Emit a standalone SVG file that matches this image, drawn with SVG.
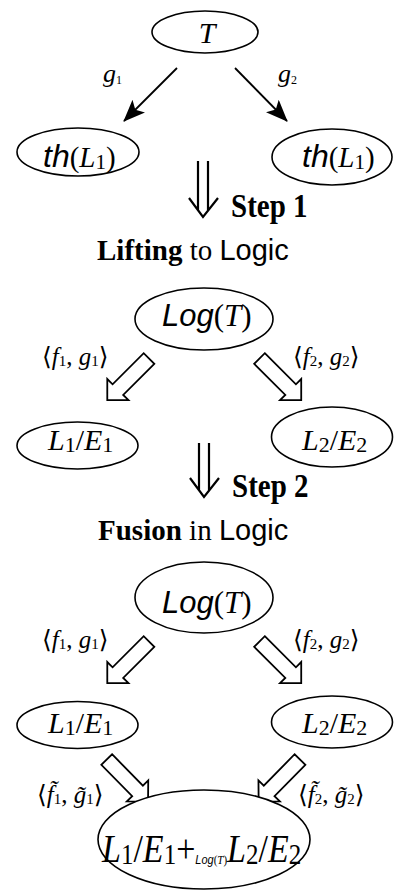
<svg xmlns="http://www.w3.org/2000/svg" xmlns:xlink="http://www.w3.org/1999/xlink" width="395" height="892" viewBox="0 0 395 892">
<style>
.node{fill:#fff;stroke:#000;stroke-width:1.6}
.ser{font-family:"Liberation Serif","DejaVu Serif",serif;fill:#000}
.san{font-family:"Liberation Sans","DejaVu Sans",sans-serif;fill:#000}
.it{font-style:italic}
.bd{font-weight:bold}
.line{stroke:#000;stroke-width:1.8;fill:none}
.hollow{fill:#fff;stroke:#000;stroke-width:1.8;stroke-linejoin:miter}
.dbl{stroke:#000;stroke-width:2.2;fill:none}
</style>
<defs>
<marker id="ah" viewBox="0 0 22 18" refX="21" refY="9" markerWidth="22" markerHeight="18" markerUnits="userSpaceOnUse" orient="auto">
<path d="M0,0 L22,9 L0,18 L5,9 Z" fill="#000"/>
</marker>
<path id="harrow" class="hollow" d="M0,-7.5 L44,-7.5 L44,-15 L59,0 L44,15 L44,7.5 L0,7.5 Z"/>
</defs>

<g id="connectors">
<line class="line" x1="177" y1="68" x2="124" y2="121" marker-end="url(#ah)"/>
<line class="line" x1="235" y1="68" x2="287" y2="121" marker-end="url(#ah)"/>
<use xlink:href="#harrow" transform="translate(149,358.5) rotate(135)"/>
<use xlink:href="#harrow" transform="translate(259.5,358.5) rotate(45)"/>
<use xlink:href="#harrow" transform="translate(149,641.5) rotate(135)"/>
<use xlink:href="#harrow" transform="translate(259.5,641.5) rotate(45)"/>
<use xlink:href="#harrow" transform="translate(106.7,759.5) rotate(45.5)"/>
<use xlink:href="#harrow" transform="translate(300,759.5) rotate(134.5)"/>
<g id="step1-arrow">
<path class="dbl" d="M198,161 V210 M208,161 V210 M189,198 L203,217 L218,198"/>
</g>
<g id="step2-arrow">
<path class="dbl" d="M199,443 V490 M209,443 V490 M190,478 L204,497 L219,478"/>
</g>
</g>

<g id="labels">
<text class="ser" x="103" y="82"><tspan class="it" font-size="26">g</tspan><tspan font-size="12" dy="2">1</tspan></text>
<text class="ser" x="278" y="82"><tspan class="it" font-size="26">g</tspan><tspan font-size="12" dy="2">2</tspan></text>
<text class="ser" transform="translate(231,217) scale(1,1.15)" x="0" y="0" font-size="29"><tspan class="bd">Step 1</tspan></text>
<text class="ser" x="97" y="260" font-size="29"><tspan class="bd">Lifting</tspan> to <tspan class="san">Logic</tspan></text>
<text class="ser" transform="translate(232,497) scale(1,1.15)" x="0" y="0" font-size="29"><tspan class="bd">Step 2</tspan></text>
<text class="ser" x="98" y="540" font-size="29"><tspan class="bd">Fusion</tspan> in <tspan class="san">Logic</tspan></text>
<text class="ser" x="42" y="365" font-size="25">⟨<tspan class="it">f</tspan><tspan font-size="15" dy="1">1</tspan><tspan dy="-1">, </tspan><tspan class="it">g</tspan><tspan font-size="15" dy="1">1</tspan><tspan dy="-1">⟩</tspan></text>
<text class="ser" x="293" y="365" font-size="25">⟨<tspan class="it">f</tspan><tspan font-size="15" dy="1">2</tspan><tspan dy="-1">, </tspan><tspan class="it">g</tspan><tspan font-size="15" dy="1">2</tspan><tspan dy="-1">⟩</tspan></text>
<text class="ser" x="42" y="648" font-size="25">⟨<tspan class="it">f</tspan><tspan font-size="15" dy="1">1</tspan><tspan dy="-1">, </tspan><tspan class="it">g</tspan><tspan font-size="15" dy="1">1</tspan><tspan dy="-1">⟩</tspan></text>
<text class="ser" x="293" y="648" font-size="25">⟨<tspan class="it">f</tspan><tspan font-size="15" dy="1">2</tspan><tspan dy="-1">, </tspan><tspan class="it">g</tspan><tspan font-size="15" dy="1">2</tspan><tspan dy="-1">⟩</tspan></text>
<text class="ser" x="37" y="803" font-size="25">⟨<tspan class="it">f̃</tspan><tspan font-size="15" dy="1">1</tspan><tspan dy="-1">, </tspan><tspan class="it">g̃</tspan><tspan font-size="15" dy="1">1</tspan><tspan dy="-1">⟩</tspan></text>
<text class="ser" x="298" y="803" font-size="25">⟨<tspan class="it">f̃</tspan><tspan font-size="15" dy="1">2</tspan><tspan dy="-1">, </tspan><tspan class="it">g̃</tspan><tspan font-size="15" dy="1">2</tspan><tspan dy="-1">⟩</tspan></text>
</g>

<g id="node-T">
<ellipse class="node" cx="205" cy="32" rx="53" ry="21"/>
<text class="ser it" x="207" y="43" font-size="30" text-anchor="middle">T</text>
</g>
<g id="node-thL1-left">
<ellipse class="node" cx="78" cy="152" rx="61" ry="24"/>
<text class="ser" x="43" y="167" font-size="29"><tspan class="san it" font-size="32">th</tspan>(<tspan class="it">L</tspan><tspan font-size="21" dy="2">1</tspan><tspan dy="-2">)</tspan></text>
</g>
<g id="node-thL1-right">
<ellipse class="node" cx="332" cy="157" rx="60" ry="28"/>
<text class="ser" x="302" y="167" font-size="29"><tspan class="san it" font-size="32">th</tspan>(<tspan class="it">L</tspan><tspan font-size="21" dy="2">1</tspan><tspan dy="-2">)</tspan></text>
</g>
<g id="node-LogT-1">
<ellipse class="node" cx="204" cy="319" rx="69" ry="31"/>
<text class="ser" x="162" y="326" font-size="31"><tspan class="san it">Log</tspan>(<tspan class="it">T</tspan>)</text>
</g>
<g id="node-L1E1-1">
<ellipse class="node" cx="77.5" cy="445.5" rx="60.5" ry="23.5"/>
<text class="ser" x="48" y="450" font-size="30"><tspan class="it">L</tspan><tspan font-size="22" dy="2">1</tspan><tspan dy="-2">/</tspan><tspan class="it">E</tspan><tspan font-size="22" dy="2">1</tspan></text>
</g>
<g id="node-L2E2-1">
<ellipse class="node" cx="332" cy="437" rx="60.5" ry="30"/>
<text class="ser" x="302" y="450" font-size="30"><tspan class="it">L</tspan><tspan font-size="22" dy="2">2</tspan><tspan dy="-2">/</tspan><tspan class="it">E</tspan><tspan font-size="22" dy="2">2</tspan></text>
</g>
<g id="node-LogT-2">
<ellipse class="node" cx="204" cy="597.5" rx="69" ry="35.5"/>
<text class="ser" x="162" y="613" font-size="31"><tspan class="san it">Log</tspan>(<tspan class="it">T</tspan>)</text>
</g>
<g id="node-L1E1-2">
<ellipse class="node" cx="77.5" cy="725" rx="60.5" ry="23.5"/>
<text class="ser" x="48" y="733" font-size="30"><tspan class="it">L</tspan><tspan font-size="22" dy="2">1</tspan><tspan dy="-2">/</tspan><tspan class="it">E</tspan><tspan font-size="22" dy="2">1</tspan></text>
</g>
<g id="node-L2E2-2">
<ellipse class="node" cx="332" cy="722" rx="60.5" ry="26"/>
<text class="ser" x="302" y="733" font-size="30"><tspan class="it">L</tspan><tspan font-size="22" dy="2">2</tspan><tspan dy="-2">/</tspan><tspan class="it">E</tspan><tspan font-size="22" dy="2">2</tspan></text>
</g>
<g id="node-fusion">
<ellipse class="node" cx="204" cy="839.5" rx="106" ry="49.5"/>
<text class="ser" transform="translate(102,862) scale(1,1.2)" x="0" y="0" font-size="34"><tspan class="it">L</tspan><tspan font-size="25" dy="2">1</tspan><tspan dy="-2">/</tspan><tspan class="it">E</tspan><tspan font-size="25" dy="2">1</tspan><tspan dy="-2">+</tspan><tspan class="san it" font-size="11" dy="2">Log</tspan><tspan font-size="11">(</tspan><tspan class="it" font-size="11">T</tspan><tspan font-size="11">)</tspan><tspan class="it" dy="-2">L</tspan><tspan font-size="25" dy="2">2</tspan><tspan dy="-2">/</tspan><tspan class="it">E</tspan><tspan font-size="25" dy="2">2</tspan></text>
</g>
</svg>
